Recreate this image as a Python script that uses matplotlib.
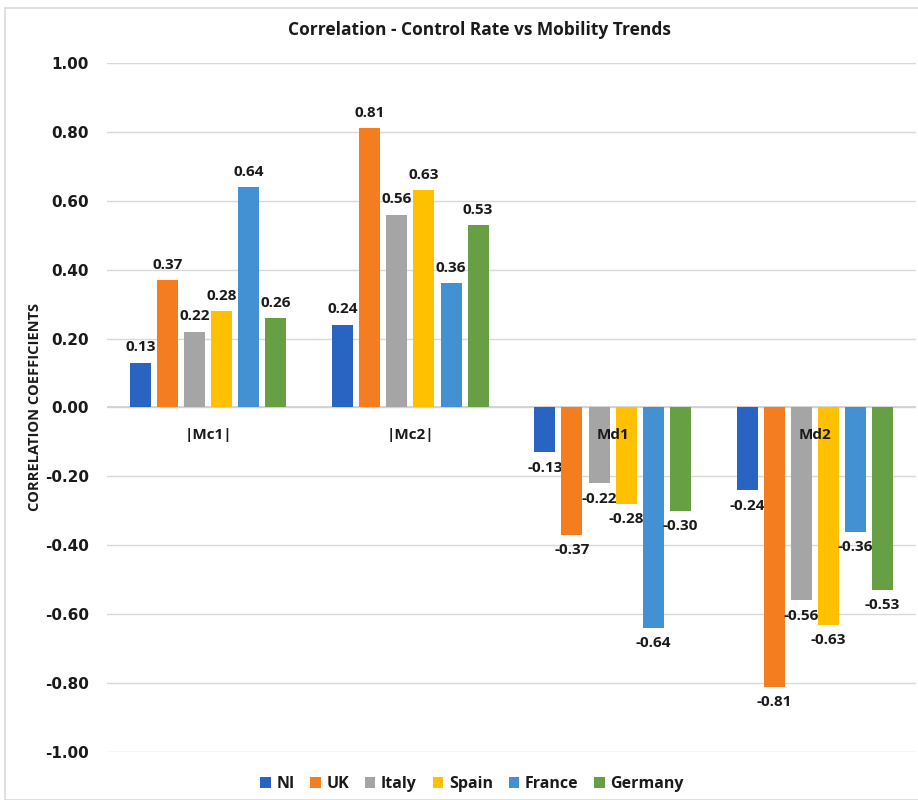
import matplotlib
matplotlib.use("Agg")
import matplotlib.pyplot as plt
from matplotlib.patches import Rectangle
import numpy as np

categories = ["|Mc1|", "|Mc2|", "Md1", "Md2"]
series = ["NI", "UK", "Italy", "Spain", "France", "Germany"]
NI = [0.13, 0.24, -0.13, -0.24]
UK = [0.37, 0.81, -0.37, -0.81]
Italy = [0.22, 0.56, -0.22, -0.56]
Spain = [0.28, 0.63, -0.28, -0.63]
France = [0.64, 0.36, -0.64, -0.36]
Germany = [0.26, 0.53, -0.30, -0.53]
values = [NI, UK, Italy, Spain, France, Germany]
colors = ["#2964C2", "#F47D20", "#A5A5A5", "#FFC000", "#4391D3", "#67A044"]
yticks = [-1.0, -0.8, -0.6, -0.4, -0.2, 0.0, 0.2, 0.4, 0.6, 0.8, 1.0]

fig = plt.figure(figsize=(9.18, 8), dpi=100)
fig.patches.append(Rectangle((5/918, 0), 1, 1 - 8/800, transform=fig.transFigure,
                             fill=False, edgecolor="#D9D9D9", linewidth=1.2))
ax = fig.add_axes([107/918, 1 - 752/800, 809/918, (752 - 63)/800])

x = np.arange(len(categories))
step = 0.134
width = 0.104
offsets = (np.arange(len(series)) - (len(series) - 1) / 2) * step
for s, vals, c, off in zip(series, values, colors, offsets):
    bars = ax.bar(x + off, vals, width=width, color=c, label=s, zorder=3)
    for b, v in zip(bars, vals):
        if v >= 0:
            ax.annotate(f"{v:.2f}", (b.get_x() + b.get_width() / 2, v),
                        xytext=(0, 6), textcoords="offset points", ha="center", va="bottom",
                        fontsize=11, fontweight="bold", family="Open Sans", color="#1a1a1a")
        else:
            ax.annotate(f"{v:.2f}", (b.get_x() + b.get_width() / 2, v),
                        xytext=(0, -6), textcoords="offset points", ha="center", va="top",
                        fontsize=11, fontweight="bold", family="Open Sans", color="#1a1a1a")

for xi, cat in zip(x, categories):
    ax.annotate(cat, (xi, 0), xytext=(0, -15), textcoords="offset points",
                ha="center", va="top", fontsize=11, fontweight="bold",
                family="Open Sans", color="#1a1a1a", zorder=5)

ax.set_xlim(-0.5, len(categories) - 0.5)
ax.set_ylim(-1, 1)
ax.set_yticks(yticks)
ax.set_yticklabels([f"{t:.2f}" for t in yticks], fontsize=11, fontweight="bold",
                   family="DejaVu Sans", color="#1a1a1a")
ax.set_xticks([])
ax.tick_params(axis="y", length=0, pad=13)
ax.grid(axis="y", color="#D9D9D9", linewidth=1, zorder=0)
ax.axhline(0, color="#D0D0D0", linewidth=1.2, zorder=2)
for sp in ax.spines.values():
    sp.set_visible(False)

ax.set_ylabel("CORRELATION COEFFICIENTS", fontsize=10.5, fontweight="bold",
              family="Open Sans", color="#1a1a1a", va="center")
ax.yaxis.set_label_coords((35 - 107) / 809, 0.5)
fig.text(479/918, 1 - 30/800, "Correlation - Control Rate vs Mobility Trends",
         ha="center", va="center", fontsize=12.5, fontweight="bold", family="Open Sans",
         color="#1a1a1a")

leg = fig.legend(loc="center", bbox_to_anchor=(472/918, 1 - 784/800), ncol=6, frameon=False,
                 handlelength=0.65, handleheight=0.65, handletextpad=0.35, columnspacing=1.0,
                 prop={"size": 11.5, "weight": "bold", "family": "Open Sans"})
for t in leg.get_texts():
    t.set_color("#1a1a1a")

fig.savefig("out.png", dpi=100)
